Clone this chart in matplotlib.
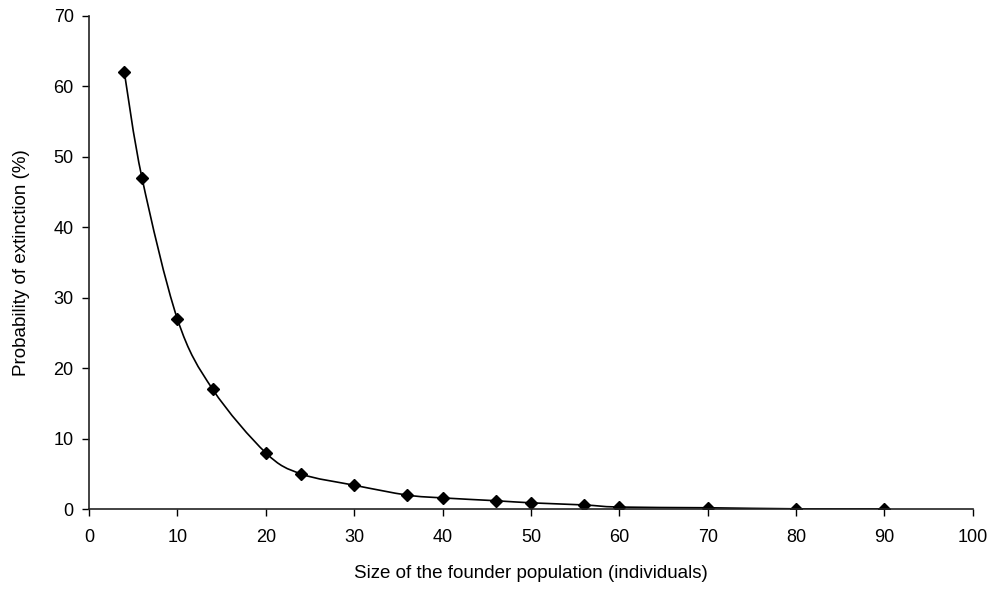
import matplotlib
matplotlib.use("Agg")
import matplotlib.pyplot as plt
import numpy as np
from matplotlib.path import Path
from matplotlib.patches import PathPatch

plt.rcParams['font.family'] = ['Liberation Sans', 'DejaVu Sans']

# founder population size vs probability of extinction (%)
size = [4, 6, 10, 14, 20, 24, 30, 36, 40, 46, 50, 56, 60, 70, 80, 90]
prob = [62, 47, 27, 17, 8, 5, 3.4, 2, 1.6, 1.2, 0.9, 0.6, 0.3, 0.2, 0.05, 0.05]

fig = plt.figure(figsize=(9.92, 5.9), dpi=100)
ax = fig.add_axes([0.0897, 0.137, 0.891, 0.836])

# smoothed line (Catmull-Rom style bezier, like a spreadsheet "smoothed line")
x = np.array(size, dtype=float)
y = np.array(prob, dtype=float)
verts = [(x[0], y[0])]
codes = [Path.MOVETO]
n = len(x)
for i in range(n - 1):
    p0 = (x[i - 1], y[i - 1]) if i > 0 else (x[i], y[i])
    p1 = (x[i], y[i])
    p2 = (x[i + 1], y[i + 1])
    p3 = (x[i + 2], y[i + 2]) if i + 2 < n else (x[i + 1], y[i + 1])
    c1 = (p1[0] + (p2[0] - p0[0]) / 6, p1[1] + (p2[1] - p0[1]) / 6)
    c2 = (p2[0] - (p3[0] - p1[0]) / 6, p2[1] - (p3[1] - p1[1]) / 6)
    verts += [c1, c2, p2]
    codes += [Path.CURVE4] * 3
ax.add_patch(PathPatch(Path(verts, codes), fill=False, edgecolor='black', lw=1.2))

ax.plot(size, prob, linestyle='none', marker='D', color='black', markersize=6.3)

ax.set_xlim(0, 100)
ax.set_ylim(0, 70)
ax.set_xticks(np.arange(0, 101, 10))
ax.set_yticks(np.arange(0, 71, 10))
ax.spines['top'].set_visible(False)
ax.spines['right'].set_visible(False)
for s in ['left', 'bottom']:
    ax.spines[s].set_linewidth(1.2)
    ax.spines[s].set_color('#222222')
ax.tick_params(direction='out', length=5, width=1, labelsize=13, colors='black')
ax.tick_params(axis='x', pad=9)
ax.tick_params(axis='y', pad=6)
ax.set_xlabel('Size of the founder population (individuals)', fontsize=13.5, labelpad=14)
ax.set_ylabel('Probability of extinction (%)', fontsize=13.5, labelpad=17)

fig.savefig('out.png', dpi=100)
